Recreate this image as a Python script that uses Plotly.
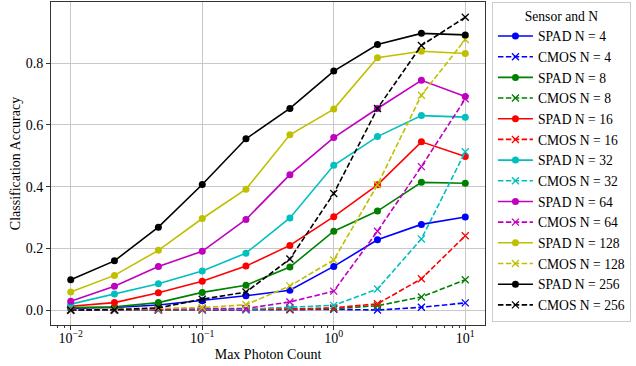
import plotly.graph_objects as go

# Max photon count levels (log-spaced)
photons = [0.01, 0.0215, 0.0464, 0.1, 0.215, 0.464, 1.0, 2.15, 4.64, 10.0]

# Classification accuracy per sensor and N
spad4 = [0.006, 0.009, 0.017, 0.031, 0.047, 0.065, 0.142, 0.228, 0.278, 0.302]
cmos4 = [0.0, 0.0, 0.001, 0.002, 0.002, 0.002, 0.003, 0.001, 0.010, 0.024]
spad8 = [0.009, 0.011, 0.025, 0.058, 0.081, 0.140, 0.256, 0.321, 0.414, 0.411]
cmos8 = [0.0, 0.0, 0.001, 0.002, 0.003, 0.003, 0.005, 0.015, 0.043, 0.099]
spad16 = [0.013, 0.025, 0.057, 0.094, 0.143, 0.210, 0.303, 0.406, 0.545, 0.498]
cmos16 = [0.0, 0.001, 0.001, 0.002, 0.003, 0.004, 0.008, 0.021, 0.102, 0.241]
spad32 = [0.020, 0.053, 0.086, 0.127, 0.185, 0.299, 0.469, 0.562, 0.630, 0.625]
cmos32 = [0.001, 0.001, 0.002, 0.003, 0.004, 0.009, 0.016, 0.069, 0.231, 0.513]
spad64 = [0.029, 0.078, 0.142, 0.191, 0.294, 0.439, 0.559, 0.653, 0.744, 0.692]
cmos64 = [0.001, 0.001, 0.003, 0.005, 0.006, 0.027, 0.062, 0.256, 0.465, 0.684]
spad128 = [0.059, 0.113, 0.194, 0.297, 0.392, 0.568, 0.651, 0.817, 0.838, 0.831]
cmos128 = [0.002, 0.003, 0.006, 0.009, 0.018, 0.079, 0.163, 0.406, 0.696, 0.876]
spad256 = [0.099, 0.160, 0.269, 0.407, 0.555, 0.653, 0.774, 0.860, 0.896, 0.891]
cmos256 = [0.001, 0.002, 0.008, 0.036, 0.059, 0.166, 0.378, 0.653, 0.857, 0.948]

n_values = [4, 8, 16, 32, 64, 128, 256]
spad_series = [spad4, spad8, spad16, spad32, spad64, spad128, spad256]
cmos_series = [cmos4, cmos8, cmos16, cmos32, cmos64, cmos128, cmos256]
colors = ["#0000ff", "#008000", "#ff0000", "#00bfbf", "#bf00bf", "#bfbf00", "#000000"]

x_ticks = [0.01, 0.1, 1, 10]
x_ticktext = ["10<sup>−2</sup>", "10<sup>−1</sup>", "10<sup>0</sup>", "10<sup>1</sup>"]
y_ticks = [0.0, 0.2, 0.4, 0.6, 0.8]

FONT = "Liberation Serif, Times New Roman, serif"
FS = 14
LEG_FS = 13.6

fig = go.Figure()
for n, spad, cmos, c in zip(n_values, spad_series, cmos_series, colors):
    fig.add_trace(go.Scatter(
        x=photons, y=spad, mode="lines+markers", name=f"SPAD N = {n}",
        line=dict(color=c, width=1.6),
        marker=dict(symbol="circle", size=7, color=c),
        legendgroup=f"s{n}",
    ))
    fig.add_trace(go.Scatter(
        x=photons, y=cmos, mode="lines+markers", name=f"CMOS N = {n}",
        line=dict(color=c, width=1.6, dash="5.5px,2.4px"),
        marker=dict(symbol="x-thin", size=7, color=c, line=dict(color=c, width=1.3)),
        legendgroup=f"c{n}",
    ))

# minor ticks at 2..9 of every decade on the log axis
minor_vals = []
for d in [0.001, 0.01, 0.1, 1, 10]:
    for k in range(2, 10):
        v = d * k
        if 0.007 <= v <= 14:
            minor_vals.append(v)

fig.update_layout(
    width=636, height=366,
    margin=dict(l=51, r=151, t=2, b=41),
    paper_bgcolor="white", plot_bgcolor="white",
    font=dict(family=FONT, size=FS, color="black"),
    showlegend=True,
    legend=dict(
        x=1.016, y=1.0, xanchor="left", yanchor="top",
        bordercolor="#cccccc", borderwidth=1,
        font=dict(family=FONT, size=LEG_FS),
        title=dict(text="Sensor and N", side="top center", font=dict(family=FONT, size=LEG_FS)),
        tracegroupgap=0,
        itemwidth=35,
    ),
)

fig.update_xaxes(
    type="log", range=[-2.15, 1.15],
    tickvals=x_ticks, ticktext=x_ticktext,
    ticks="outside", ticklen=4, tickcolor="#333",
    ticklabelstandoff=-4,
    showgrid=True, gridcolor="#c8c8c8", gridwidth=1,
    showline=True, linecolor="#333", linewidth=1, mirror=True,
    zeroline=False,
    minor=dict(tickvals=minor_vals, ticks="outside", ticklen=2, tickcolor="#333", showgrid=False),
    title=dict(text="Max Photon Count", font=dict(family=FONT, size=FS), standoff=4),
    tickfont=dict(family=FONT, size=FS),
)
fig.update_yaxes(
    range=[-0.0475, 0.9975],
    tickvals=y_ticks, ticktext=[f"{v:.1f}" for v in y_ticks],
    ticks="outside", ticklen=4, tickcolor="#333",
    showgrid=True, gridcolor="#c8c8c8", gridwidth=1,
    showline=True, linecolor="#333", linewidth=1, mirror=True,
    zeroline=False,
    title=dict(text="Classification Accuracy", font=dict(family=FONT, size=FS), standoff=1),
    tickfont=dict(family=FONT, size=FS),
)

fig.write_html("out.html")
